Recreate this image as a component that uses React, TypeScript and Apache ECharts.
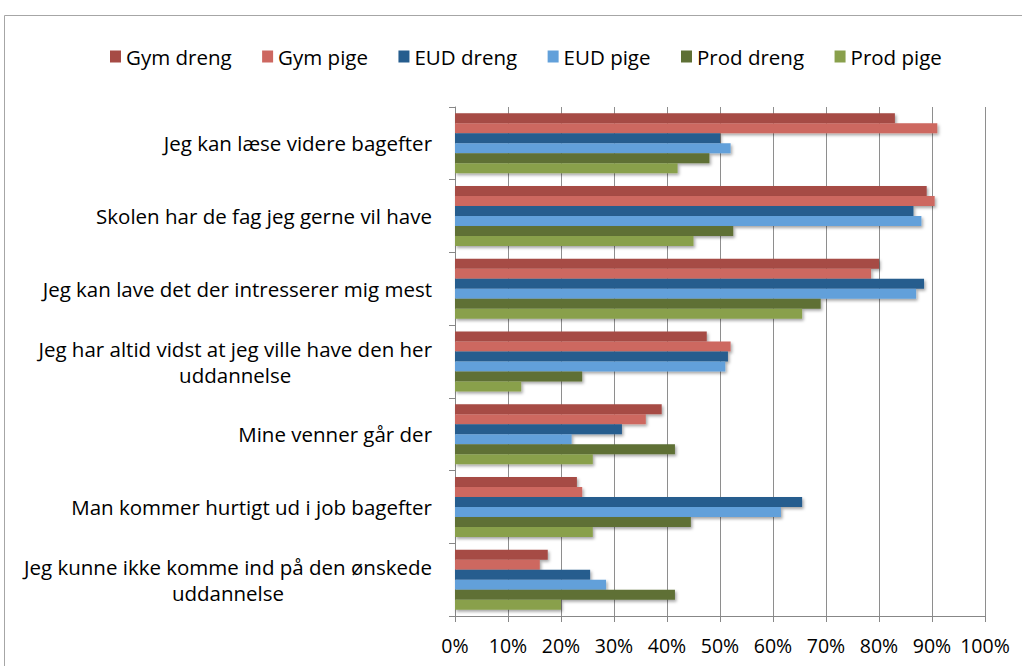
import React, { useEffect, useRef } from "react";
import * as echarts from "echarts";

const categories = [
  "Jeg kan læse videre bagefter",
  "Skolen har de fag jeg gerne vil have",
  "Jeg kan lave det der intresserer mig mest",
  "Jeg har altid vidst at jeg ville have den her\nuddannelse",
  "Mine venner går der",
  "Man kommer hurtigt ud i job bagefter",
  "Jeg kunne ikke komme ind på den ønskede\nuddannelse",
];

const seriesNames = ["Gym dreng", "Gym pige", "EUD dreng", "EUD pige", "Prod dreng", "Prod pige"];

const gymDreng = [83, 89, 80, 47.5, 39, 23, 17.5];
const gymPige = [91, 90.5, 78.5, 52, 36, 24, 16];
const eudDreng = [50, 86.5, 88.5, 51.5, 31.5, 65.5, 25.5];
const eudPige = [52, 88, 87, 51, 22, 61.5, 28.5];
const prodDreng = [48, 52.5, 69, 24, 41.5, 44.5, 41.5];
const prodPige = [42, 45, 65.5, 12.5, 26, 26, 20];

const colors = ["#A64B45", "#CD6760", "#265D8E", "#62A0DA", "#5E7035", "#89A04C"];

const FONT = "Open Sans";

export default function App() {
  const ref = useRef<HTMLDivElement>(null);
  useEffect(() => {
    if (!ref.current) return;
    const chart = echarts.init(ref.current, null, { renderer: "svg" });
    const data = [gymDreng, gymPige, eudDreng, eudPige, prodDreng, prodPige];
    chart.setOption({
      animation: false,
      backgroundColor: "#ffffff",
      textStyle: { fontFamily: FONT },
      graphic: [
        {
          type: "rect",
          shape: { x: 4.5, y: 15.5, width: 1200, height: 800 },
          style: { fill: "none", stroke: "#A6A6A6", lineWidth: 1 },
          silent: true,
          z: -10,
        },
      ],
      legend: {
        left: 105,
        top: 41,
        itemWidth: 11,
        itemHeight: 12,
        itemGap: 30.5,
        icon: "rect",
        textStyle: { fontFamily: FONT, fontSize: 20.5, color: "#000" },
        data: seriesNames,
      },
      grid: { left: 455, right: 37, top: 107, bottom: 50, containLabel: false },
      xAxis: {
        type: "value",
        min: 0,
        max: 100,
        interval: 10,
        axisLine: { show: true, lineStyle: { color: "#878787", width: 1 } },
        axisTick: { show: true, length: 6, lineStyle: { color: "#878787" } },
        splitLine: { show: true, lineStyle: { color: "#8E8E8E", width: 1 } },
        axisLabel: {
          formatter: "{value}%",
          fontFamily: FONT,
          fontSize: 19.5,
          color: "#000",
          margin: 19,
        },
      },
      yAxis: {
        type: "category",
        inverse: true,
        data: categories,
        axisLine: { show: true, lineStyle: { color: "#878787", width: 1 } },
        axisTick: { show: true, length: 6, lineStyle: { color: "#878787" } },
        axisLabel: {
          margin: 23,
          align: "right",
          formatter: (v: string) =>
            v
              .split("\n")
              .map((l) => `{c|${l}}`)
              .join("\n"),
          rich: {
            c: {
              align: "center",
              fontFamily: FONT,
              fontSize: 20.5,
              color: "#000",
              lineHeight: 26,
            },
          },
        },
      },
      series: seriesNames.map((name, i) => ({
        name,
        type: "bar",
        data: data[i],
        barWidth: 10,
        barGap: "0%",
        itemStyle: {
          color: colors[i],
          shadowColor: "rgba(0,0,0,0.35)",
          shadowBlur: 3,
          shadowOffsetX: 1.5,
          shadowOffsetY: 2,
        },
      })),
    });
    return () => chart.dispose();
  }, []);
  return (
    <div
      ref={ref}
      style={{ position: "fixed", left: 0, top: 0, width: 1022, height: 666, background: "#fff" }}
    />
  );
}
